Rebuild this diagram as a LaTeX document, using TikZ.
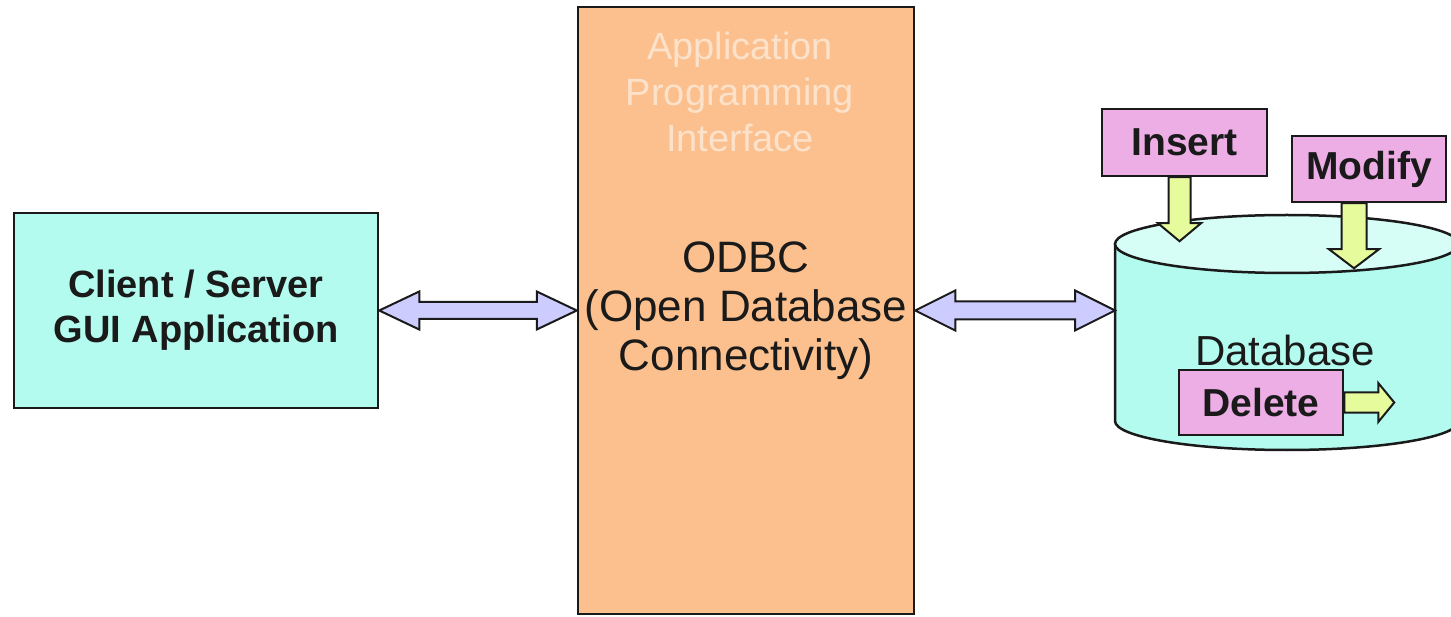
\documentclass[tikz,border=0pt]{standalone}
\usepackage{fontspec}
\setmainfont{Liberation Sans}
\usetikzlibrary{calc}
\definecolor{aqua}{HTML}{B2FBEE}
\definecolor{aqualight}{HTML}{D6FDF6}
\definecolor{apiorange}{HTML}{FBC08E}
\definecolor{apitext}{HTML}{FDE2CB}
\definecolor{pinkbox}{HTML}{EDAEE6}
\definecolor{lavender}{HTML}{CCCCFF}
\definecolor{ygreen}{HTML}{E6FB9C}
\definecolor{ink}{HTML}{1A1A1A}
\tikzset{
  box/.style={draw=ink, line width=2.5pt, inner sep=0pt, align=center, text=ink},
  tag/.style={box, fill=pinkbox, font=\fontsize{39}{44}\selectfont\bfseries},
  darrow/.style={draw=ink, line width=2pt, fill=lavender, line join=miter},
  yarrow/.style={draw=ink, line width=2pt, fill=ygreen, line join=miter},
  cyl/.style={draw=ink, line width=2.5pt}
}
\begin{document}
\begin{tikzpicture}[x=1pt,y=-1pt]
\useasboundingbox (0,0) rectangle (1451,617);
\fill[white] (0,0) rectangle (1451,617);
\clip (0,0) rectangle (1451,617);

% client box
\node[box, fill=aqua, minimum width=364pt, minimum height=195pt,
      font=\fontsize{38}{45}\selectfont\bfseries] (client) at (196,310.5)
      {Client / Server\\GUI Application};

% API / ODBC box
\node[box, fill=apiorange, minimum width=336pt, minimum height=607pt,
      font=\fontsize{44}{49}\selectfont] (api) at (746,310.5)
      {ODBC\\(Open Database\\Connectivity)};
\node[align=center, text=apitext, inner sep=0pt,
      font=\fontsize{38}{46}\selectfont] (apilabel) at (740,92)
      {Application\\Programming\\Interface};

% database cylinder
\coordinate (dbw) at (1115,310.5);
\fill[aqua] (1115,244) -- (1115,421) arc (180:0:172 and 29) -- (1459,244) -- cycle;
\draw[cyl] (1115,244) -- (1115,421) arc (180:0:172 and 29) -- (1459,244);
\draw[cyl, fill=aqualight] (1287,244) ellipse [x radius=172, y radius=29];
\node[text=ink, inner sep=0pt, font=\fontsize{42}{46}\selectfont] (db) at (1285,350) {Database};

% double arrows
\draw[darrow] (client.east) -- ++(40,-19) -- ++(0,10.5)
  -- ($(api.west)+(-40,-8.5)$) -- ++(0,-10.5) -- (api.west)
  -- ++(-40,19) -- ++(0,-10.5) -- ($(client.east)+(40,8.5)$) -- ++(0,10.5) -- cycle;
\draw[darrow] (api.east) -- ++(40,-20) -- ++(0,11)
  -- ($(dbw)+(-40,-9)$) -- ++(0,-11) -- (dbw)
  -- ++(-40,20) -- ++(0,-11) -- ($(api.east)+(40,9)$) -- ++(0,11) -- cycle;

% operation tags
\node[tag, minimum width=165pt, minimum height=67pt] (insert) at (1184.5,142.5) {Insert};
\node[tag, minimum width=154pt, minimum height=66pt] (modify) at (1369,169) {Modify};
\node[tag, minimum width=164pt, minimum height=65pt] (delete) at (1261,402.5) {Delete};

% insert arrow
\coordinate (ia) at ($(insert.south)+(-5,0)$);
\draw[yarrow] ($(ia)+(-11,0)$) -- ($(ia)+(-11,46)$) -- ($(ia)+(-21.5,46)$)
  -- ($(ia)+(0,64)$) -- ($(ia)+(21.5,46)$) -- ($(ia)+(11,46)$) -- ($(ia)+(11,0)$) -- cycle;
% modify arrow
\coordinate (ma) at ($(modify.south)+(-15,0)$);
\draw[yarrow] ($(ma)+(-12.5,0)$) -- ($(ma)+(-12.5,46)$) -- ($(ma)+(-25,46)$)
  -- ($(ma)+(0,65)$) -- ($(ma)+(25,46)$) -- ($(ma)+(12.5,46)$) -- ($(ma)+(12.5,0)$) -- cycle;
% delete arrow
\coordinate (da) at (delete.east);
\draw[yarrow] ($(da)+(0,-10)$) -- ($(da)+(34,-10)$) -- ($(da)+(34,-19.5)$)
  -- ($(da)+(50,0)$) -- ($(da)+(34,19.5)$) -- ($(da)+(34,10)$) -- ($(da)+(0,10)$) -- cycle;
\end{tikzpicture}
\end{document}
